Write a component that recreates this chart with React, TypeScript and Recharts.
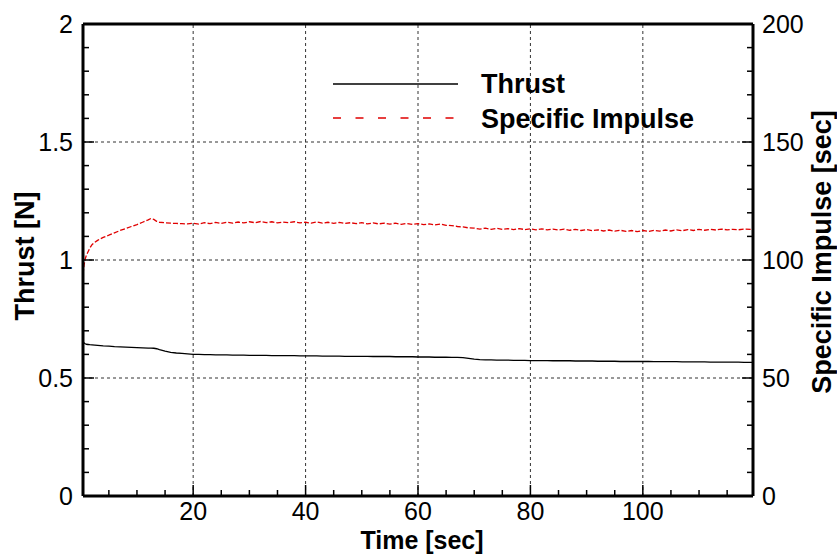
import React from 'react'
import { LineChart, Line, XAxis, YAxis, ReferenceLine } from 'recharts'

// time [sec]
const time = [
  0.4, 0.6, 0.8, 1, 1.3, 1.6, 2, 2.5, 3, 3.5, 4, 5, 6, 7, 8, 9, 10, 11, 12, 12.5, 13, 13.5, 14, 15, 16, 17, 18, 19,
  20, 21, 22, 23, 24, 25, 26, 27, 28, 29, 30, 31, 32, 33, 34, 35, 36, 37, 38, 39, 40, 41, 42, 43, 44, 45, 46, 47, 48,
  49, 50, 51, 52, 53, 54, 55, 56, 57, 58, 59, 60, 61, 62, 63, 64, 65, 66, 67, 68, 69, 70, 71, 72, 73, 74, 75, 76, 77,
  78, 79, 80, 81, 82, 83, 84, 85, 86, 87, 88, 89, 90, 91, 92, 93, 94, 95, 96, 97, 98, 99, 100, 101, 102, 103, 104,
  105, 106, 107, 108, 109, 110, 111, 112, 113, 114, 115, 116, 117, 118, 119.6
]

// thrust [N]
const thrust = [
  0.655, 0.648, 0.645, 0.643, 0.642, 0.641, 0.64, 0.639, 0.638, 0.637, 0.636, 0.635, 0.633, 0.632, 0.631, 0.63,
  0.629, 0.628, 0.627, 0.627, 0.626, 0.624, 0.62, 0.614, 0.609, 0.606, 0.604, 0.602,
  0.6, 0.6, 0.599, 0.599, 0.598, 0.598, 0.598, 0.597, 0.597, 0.597, 0.596, 0.596, 0.596, 0.596, 0.595, 0.595, 0.595,
  0.595, 0.595, 0.594, 0.594, 0.594, 0.594, 0.593, 0.593, 0.593, 0.593, 0.592, 0.592, 0.592, 0.592, 0.592, 0.591,
  0.591, 0.591, 0.591, 0.59, 0.59, 0.59, 0.59, 0.589, 0.589, 0.589, 0.588, 0.588, 0.588, 0.587, 0.587, 0.586, 0.583,
  0.58, 0.578, 0.577, 0.577, 0.576, 0.576, 0.576, 0.575, 0.575, 0.575, 0.574, 0.574, 0.574, 0.574, 0.573, 0.573,
  0.573, 0.573, 0.572, 0.572, 0.572, 0.572, 0.571, 0.571, 0.571, 0.571, 0.57, 0.57, 0.57, 0.57, 0.57, 0.57, 0.569,
  0.569, 0.569, 0.569, 0.569, 0.568, 0.568, 0.568, 0.568, 0.568, 0.567, 0.567, 0.567, 0.567, 0.567, 0.567, 0.566,
  0.566
]

// specific impulse [sec]
const isp = [
  94, 98, 100.5, 102, 103.5, 105, 106.5, 107.5, 108.3, 109, 109.6, 110.5, 111.5, 112.5, 113.3, 114.2, 115, 116,
  117, 117.6, 117.2, 116.4, 116, 115.8, 115.6, 115.5, 115.4, 115.3,
  115.6, 115.2, 115.8, 115.4, 115.9, 115.5, 116, 115.6, 116.1, 115.7, 116.2, 115.8, 116.3, 115.8, 116.2, 115.7,
  116.1, 115.8, 116.2, 115.7, 116, 115.6, 116.1, 115.6, 116, 115.5, 115.9, 115.5, 115.8, 115.4, 115.8, 115.3, 115.7,
  115.3, 115.6, 115.2, 115.6, 115.1, 115.5, 115.1, 115.4, 115, 115.3, 114.9, 115.2, 114.7, 114.6, 114.2, 114, 113.6,
  113.5, 113.1, 113.5, 113, 113.4, 113, 113.3, 112.9, 113.3, 112.9, 113.2, 112.8, 113.2, 112.8, 113.1, 112.7, 113.1,
  112.6, 113, 112.5, 112.9, 112.4, 112.8, 112.3, 112.7, 112.2, 112.6, 112.1, 112.5, 112, 112.5, 112.1, 112.6, 112.2,
  112.7, 112.3, 112.8, 112.4, 112.9, 112.5, 113, 112.6, 113, 112.7, 113.1, 112.8, 113, 112.8, 113.1, 112.9
]

const xMajor = [20, 40, 60, 80, 100]
const thrustMajor = [0, 0.5, 1, 1.5, 2]
const ispMajor = [0, 50, 100, 150, 200]

const data = time.map((t, i) => ({ t, thrust: thrust[i], isp: isp[i] }))

const xTicks = Array.from({ length: 23 }, (_, i) => (i + 1) * 5)
const thrustTicks = Array.from({ length: 21 }, (_, i) => i / 10)
const ispTicks = Array.from({ length: 21 }, (_, i) => i * 10)

const font = '"Liberation Sans", Arial, Helvetica, sans-serif'
const tickFont = 25

const BottomTick = (props: any) => {
  const { x, y, payload } = props
  const major = xMajor.includes(payload.value)
  return (
    <g>
      <line x1={x} x2={x} y1={y} y2={y - (major ? 11 : 6)} stroke='#000' strokeWidth={1.5} />
      {major && (
        <text x={x} y={y + 24} textAnchor='middle' fontFamily={font} fontSize={tickFont} fill='#000'>
          {payload.value}
        </text>
      )}
    </g>
  )
}

const LeftTick = (props: any) => {
  const { x, y, payload } = props
  const major = thrustMajor.includes(payload.value)
  return (
    <g>
      <line x1={x} x2={x + (major ? 11 : 6)} y1={y} y2={y} stroke='#000' strokeWidth={1.5} />
      {major && (
        <text x={x - 10} y={y + 9} textAnchor='end' fontFamily={font} fontSize={tickFont} fill='#000'>
          {payload.value}
        </text>
      )}
    </g>
  )
}

const RightTick = (props: any) => {
  const { x, y, payload } = props
  const major = ispMajor.includes(payload.value)
  return (
    <g>
      <line x1={x} x2={x - (major ? 11 : 6)} y1={y} y2={y} stroke='#000' strokeWidth={1.5} />
      {major && (
        <text x={x + 9} y={y + 9} textAnchor='start' fontFamily={font} fontSize={tickFont} fill='#000'>
          {payload.value}
        </text>
      )}
    </g>
  )
}

export default function App() {
  return (
    <div style={{ position: 'relative', width: 837, height: 554, background: '#fff' }}>
      <style>{'body { margin: 0; }'}</style>
      <LineChart width={837} height={554} data={data} margin={{ top: 24, right: 0, left: 0, bottom: 0 }}>
        <XAxis
          dataKey='t'
          type='number'
          domain={[0.4, 119.6]}
          ticks={xTicks}
          interval={0}
          height={58}
          tickSize={0}
          tickMargin={0}
          tick={<BottomTick />}
          axisLine={{ stroke: '#000', strokeWidth: 3 }}
          tickLine={false}
          allowDataOverflow
        />
        <YAxis
          yAxisId='left'
          domain={[0, 2]}
          ticks={thrustTicks}
          interval={0}
          width={83}
          tickSize={0}
          tickMargin={0}
          tick={<LeftTick />}
          axisLine={{ stroke: '#000', strokeWidth: 3 }}
          tickLine={false}
        />
        <YAxis
          yAxisId='right'
          orientation='right'
          domain={[0, 200]}
          ticks={ispTicks}
          interval={0}
          width={84}
          tickSize={0}
          tickMargin={0}
          tick={<RightTick />}
          axisLine={{ stroke: '#000', strokeWidth: 3 }}
          tickLine={false}
        />
        {xMajor.map((v) => (
          <ReferenceLine key={'gx' + v} x={v} yAxisId='left' stroke='#333' strokeDasharray='3 3' />
        ))}
        {thrustMajor.slice(1, -1).map((v) => (
          <ReferenceLine key={'gy' + v} y={v} yAxisId='left' stroke='#333' strokeDasharray='3 3' />
        ))}
        <ReferenceLine y={2} yAxisId='left' stroke='#000' strokeWidth={3} />
        <Line
          yAxisId='left'
          dataKey='thrust'
          stroke='#000'
          strokeWidth={1.3}
          dot={false}
          isAnimationActive={false}
        />
        <Line
          yAxisId='right'
          dataKey='isp'
          stroke='#e00000'
          strokeWidth={1.3}
          strokeDasharray='5 2'
          dot={false}
          isAnimationActive={false}
        />
      </LineChart>
      <svg width={837} height={554} style={{ position: 'absolute', left: 0, top: 0, pointerEvents: 'none' }}>
        <g fontFamily={font} fontWeight='bold' fontSize={27} fill='#000'>
          <line x1={333} x2={458} y1={84} y2={84} stroke='#000' strokeWidth={1.3} />
          <text x={481} y={93}>Thrust</text>
          <line x1={333} x2={458} y1={118} y2={118} stroke='#e00000' strokeWidth={1.3} strokeDasharray='8 14.5' />
          <text x={481} y={128}>Specific Impulse</text>
          <text x={422} y={548.5} fontSize={25} textAnchor='middle'>Time [sec]</text>
          <text transform='translate(34 256) rotate(-90)' textAnchor='middle'>Thrust [N]</text>
          <text transform='translate(831 252) rotate(-90)' textAnchor='middle'>Specific Impulse [sec]</text>
        </g>
      </svg>
    </div>
  )
}
